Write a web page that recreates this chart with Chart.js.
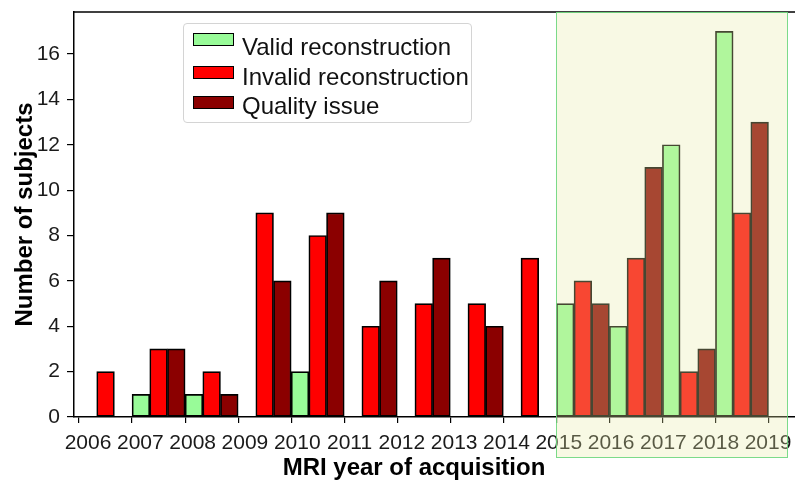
<!DOCTYPE html>
<html>
<head>
<meta charset="utf-8">
<script src="https://cdn.jsdelivr.net/npm/chart.js@4.4.1/dist/chart.umd.min.js"></script>
<style>
    body { margin: 0; background: #fff; }
    #wrap { position: relative; width: 795px; height: 480px; }
    #legend {
        position: absolute; left: 183px; top: 23px; width: 287px; height: 98px;
        border: 1px solid #d4d4d4; border-radius: 4px; background: rgba(255,255,255,0.8);
        font-family: "Liberation Sans", Arial, sans-serif; font-size: 24px; color: #111;
    }
    .patch { position: absolute; left: 9px; width: 39px; height: 11px; border: 1.5px solid #000; }
    .lbl { position: absolute; left: 58px; line-height: 24px; white-space: nowrap; }
    #xlabel {
        position: absolute; left: 214px; width: 400px; top: 453px; text-align: center;
        font-family: "Liberation Sans", Arial, sans-serif; font-weight: bold; font-size: 24px; color: #000;
    }
</style>
</head>
<body>
<div id="wrap">
    <canvas id="chart" width="795" height="480"></canvas>
    <div id="legend"></div>
    <div id="xlabel">MRI year of acquisition</div>
</div>
<script>
const years = [2006, 2007, 2008, 2009, 2010, 2011, 2012, 2013, 2014, 2015, 2016, 2017, 2018];
const validCounts = [0, 1, 1, 0, 2, 0, 0, 0, 0, 5, 4, 12, 17];
const invalidCounts = [2, 3, 2, 9, 8, 4, 5, 5, 7, 6, 7, 2, 9];
const qualityCounts = [0, 3, 1, 6, 9, 6, 7, 4, 0, 5, 11, 3, 13];
const seriesNames = ["Valid reconstruction", "Invalid reconstruction", "Quality issue"];
const seriesColors = ["#98fb98", "#ff0000", "#8b0000"];
const yTicks = [0, 2, 4, 6, 8, 10, 12, 14, 16];
const xTicks = [2006, 2007, 2008, 2009, 2010, 2011, 2012, 2013, 2014, 2015, 2016, 2017, 2018, 2019];
const spanStart = 2015;
const spanEnd = 2019.35;

const font = "'Liberation Sans', Arial, sans-serif";

function toPoints(values) {
    // bars sit in the middle of each year interval; zero counts are left out
    return years.map((y, i) => ({ x: y + 0.5, y: values[i] === 0 ? null : values[i] }));
}

const allSeries = [validCounts, invalidCounts, qualityCounts];
const datasets = allSeries.map((vals, i) => ({
    label: seriesNames[i],
    data: toPoints(vals),
    backgroundColor: seriesColors[i],
    borderColor: "#000",
    borderWidth: 1.7,
    borderSkipped: false,
    categoryPercentage: 1.0,
    barPercentage: 1.0,
}));

// html legend
const legend = document.getElementById("legend");
const patchTops = [9, 42, 72];
const textTops = [11, 41, 70];
seriesNames.forEach((name, i) => {
    const p = document.createElement("span");
    p.className = "patch";
    p.style.top = patchTops[i] + "px";
    p.style.background = seriesColors[i];
    legend.appendChild(p);
    const t = document.createElement("span");
    t.className = "lbl";
    t.style.top = textTops[i] + "px";
    t.textContent = name;
    legend.appendChild(t);
});

const framePlugin = {
    id: "frame",
    afterDraw(chart) {
        const { ctx, chartArea, scales } = chart;
        ctx.save();
        // top spine
        ctx.strokeStyle = "#000";
        ctx.lineWidth = 1.5;
        ctx.beginPath();
        ctx.moveTo(chartArea.left, chartArea.top);
        ctx.lineTo(chartArea.right, chartArea.top);
        ctx.stroke();
        // highlighted period
        const x0 = scales.x.getPixelForValue(spanStart);
        const x1 = scales.x.getPixelForValue(spanEnd);
        const y0 = chartArea.top;
        const y1 = chartArea.bottom + 40;
        ctx.fillStyle = "rgba(231, 235, 164, 0.3)";
        ctx.fillRect(x0, y0, x1 - x0, y1 - y0);
        ctx.strokeStyle = "rgba(110, 215, 125, 0.9)";
        ctx.lineWidth = 1;
        ctx.strokeRect(Math.round(x0) + 0.5, y0 + 0.5, Math.round(x1 - x0), Math.round(y1 - y0));
        ctx.restore();
    },
};

new Chart(document.getElementById("chart"), {
    type: "bar",
    data: { datasets },
    options: {
        responsive: false,
        devicePixelRatio: 1,
        animation: false,
        layout: { padding: { left: 0, right: 0, top: 12, bottom: 0 } },
        plugins: { legend: { display: false }, tooltip: { enabled: false } },
        scales: {
            x: {
                type: "linear",
                position: "bottom",
                weight: 0,
                offset: false,
                min: 2005.905,
                max: 2019.5,
                grid: { offset: false, drawOnChartArea: false, tickLength: 6, color: "#000", lineWidth: 1.2 },
                border: { display: true, color: "#000", width: 1.5 },
                ticks: { display: false, stepSize: 1 },
                afterBuildTicks: (axis) => { axis.ticks = xTicks.map((v) => ({ value: v })); },
                afterFit: (axis) => { axis.height = 6; axis.paddingLeft = 0; axis.paddingRight = 0; },
            },
            // tick labels of the year axis, drawn slightly apart from the marks as in the source
            xl: {
                type: "linear",
                position: "bottom",
                weight: 1,
                offset: false,
                min: 2005.732,
                max: 2019.516,
                grid: { display: false, drawTicks: false },
                border: { display: false },
                ticks: {
                    padding: 8,
                    color: "#1a1a1a",
                    font: { family: font, size: 21 },
                    maxRotation: 0,
                    autoSkip: false,
                    callback: (v) => String(v),
                },
                afterBuildTicks: (axis) => { axis.ticks = xTicks.map((v) => ({ value: v })); },
                afterFit: (axis) => { axis.height = 57; axis.paddingLeft = 0; axis.paddingRight = 0; },
            },
            y: {
                min: 0,
                max: 17.85,
                grid: { drawOnChartArea: false, tickLength: 7, color: "#000", lineWidth: 1.2 },
                border: { display: true, color: "#000", width: 1.5 },
                ticks: {
                    padding: 7,
                    color: "#1a1a1a",
                    font: { family: font, size: 21 },
                },
                afterBuildTicks: (axis) => { axis.ticks = yTicks.map((v) => ({ value: v })); },
                afterFit: (axis) => { axis.width = 74; axis.paddingTop = 0; axis.paddingBottom = 0; },
                title: {
                    display: true,
                    text: "Number of subjects",
                    color: "#000",
                    font: { family: font, size: 24, weight: "bold" },
                    padding: { top: 11, bottom: 0 },
                },
            },
        },
    },
    plugins: [framePlugin],
});
</script>
</body>
</html>
